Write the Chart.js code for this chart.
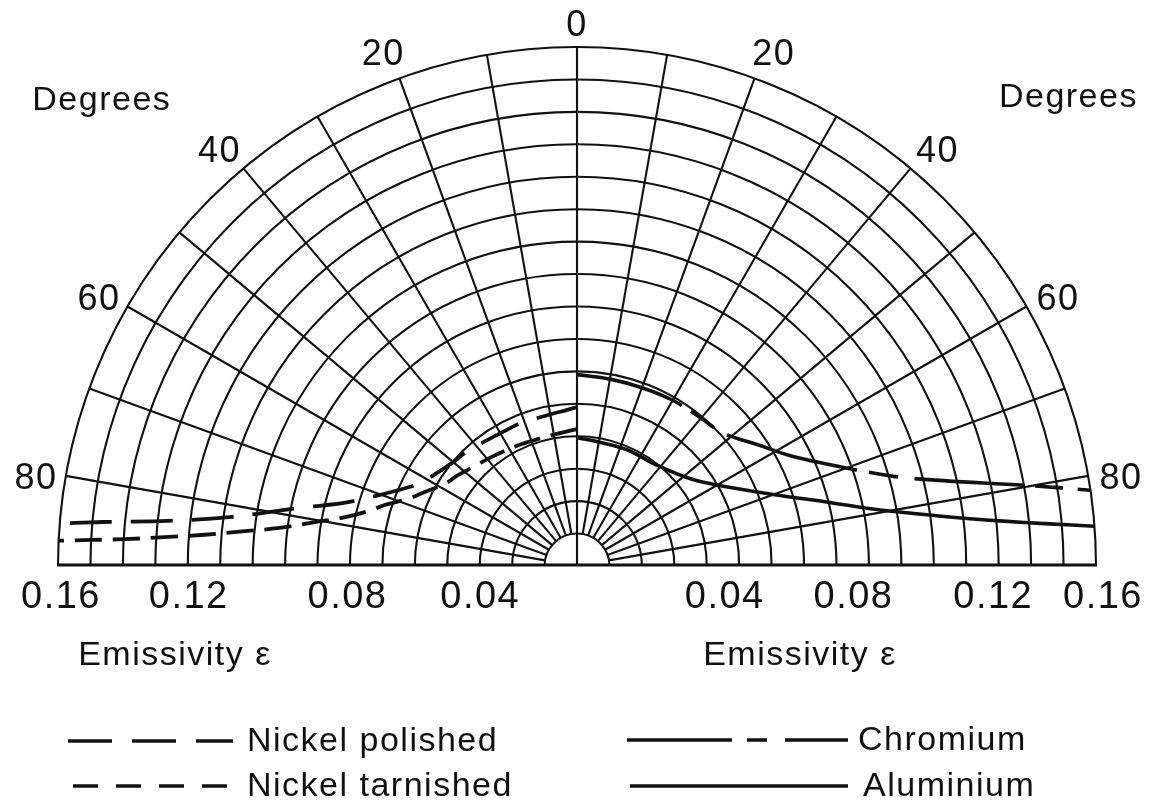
<!DOCTYPE html>
<html>
<head>
<meta charset="utf-8">
<script src="https://cdn.jsdelivr.net/npm/chart.js@4.4.1/dist/chart.umd.min.js"></script>
<style>
html,body{margin:0;padding:0;background:#ffffff;}
#wrap{width:1154px;height:804px;position:relative;}
</style>
</head>
<body>
<div id="wrap"><canvas id="c"></canvas></div>
<script>
// ---- grid / tick definitions ----
const ringValues = [0.01,0.02,0.03,0.04,0.05,0.06,0.07,0.08,0.09,0.10,0.11,0.12,0.13,0.14,0.15,0.16];
const spokeAngles = [-80,-70,-60,-50,-40,-30,-20,-10,0,10,20,30,40,50,60,70,80];
const angleTickLabels = [0,20,40,60,80];
const emissivityTickLabels = [0.04,0.08,0.12,0.16];
const seriesNames = ['Nickel polished','Nickel tarnished','Chromium','Aluminium'];

// ---- data: angle from normal (degrees, left side negative) and emissivity ----
const nickelPolishedDeg = [0,-21,-27,-44,-50,-61,-64,-72,-75,-78,-79,-82,-83.7,-84.7,-85.3];
const nickelPolishedEps = [0.049,0.0473,0.0472,0.049,0.0498,0.054,0.0563,0.0679,0.0749,0.0866,0.0912,0.1082,0.127,0.1469,0.160];

const nickelTarnishedDeg = [0,-11,-25,-38,-45,-53,-57.5,-64.7,-68,-72.4,-74.8,-78,-80.4,-82.7,-84.2,-85.2,-86,-86.6,-87.2];
const nickelTarnishedEps = [0.0422,0.0411,0.0413,0.0427,0.0439,0.0463,0.0477,0.0527,0.0557,0.0622,0.0657,0.0727,0.0815,0.0925,0.1046,0.1152,0.1275,0.1397,0.160];

const chromiumDeg = [0,10,20,30,40,48,56,63,71,75,80,81.6];
const chromiumEps = [0.059,0.0585,0.0585,0.059,0.0595,0.061,0.067,0.0745,0.091,0.105,0.1425,0.160];

const aluminiumDeg = [0,7,23,38,53,62,70.4,75.6,78.7,80.5,82.5,83.9,84.9,85.6];
const aluminiumEps = [0.0395,0.039,0.039,0.0396,0.0444,0.0521,0.0653,0.0794,0.091,0.1008,0.1158,0.131,0.1462,0.160];

function toXY(deg, eps){
  return deg.map((d,i)=>{
    const t = d*Math.PI/180;
    return {x: eps[i]*Math.sin(t), y: eps[i]*Math.cos(t)};
  });
}

const INK = '#111111';
const FONT = '34px "Liberation Sans", Arial, sans-serif';
const ANGFONT = '36px "Liberation Sans", Arial, sans-serif';
const NUMFONT = '38px "Liberation Sans", Arial, sans-serif';

const dashes = {
  'Nickel polished': [42,19],
  'Nickel tarnished': [27,11],
  'Chromium': [110,11,28,15,135,12,30,16],
  'Aluminium': []
};
const legendDashes = {
  'Nickel polished': [44,20],
  'Nickel tarnished': [25,18],
  'Chromium': [105,15,20,18],
  'Aluminium': []
};

const polarGrid = {
  id: 'polarGrid',
  beforeDatasetsDraw(chart){
    const {ctx, scales:{x, y}} = chart;
    const cx = x.getPixelForValue(0), cy = y.getPixelForValue(0);
    const R = v => x.getPixelForValue(v) - cx;
    ctx.save();
    ctx.strokeStyle = '#111111';
    ctx.lineWidth = 2.1;
    ringValues.forEach(r=>{
      ctx.beginPath();
      ctx.arc(cx, cy, R(r), Math.PI, 2*Math.PI);
      ctx.stroke();
    });
    const rIn = R(ringValues[0]), rOut = R(ringValues[ringValues.length-1]);
    spokeAngles.forEach(a=>{
      const t = a*Math.PI/180;
      const r0 = a === 0 ? 0 : rIn;
      ctx.beginPath();
      ctx.moveTo(cx + r0*Math.sin(t), cy - r0*Math.cos(t));
      ctx.lineTo(cx + rOut*Math.sin(t), cy - rOut*Math.cos(t));
      ctx.stroke();
    });
    ctx.lineWidth = 3;
    ctx.beginPath();
    ctx.moveTo(cx - rOut - 1, cy - 1);
    ctx.lineTo(cx + rOut + 1, cy - 1);
    ctx.stroke();
    ctx.restore();
  }
};

const labels = {
  id: 'labels',
  afterDraw(chart){
    const {ctx, scales:{x, y}} = chart;
    const cx = x.getPixelForValue(0), cy = y.getPixelForValue(0);
    const R = v => x.getPixelForValue(v) - cx;
    ctx.save();
    ctx.fillStyle = INK;
    ctx.letterSpacing = '1.5px';
    ctx.textAlign = 'center';
    ctx.textBaseline = 'middle';
    // angle labels
    ctx.font = ANGFONT;
    const rl = R(0.169);
    angleTickLabels.forEach(a=>{
      const sides = a === 0 ? [1] : [-1, 1];
      sides.forEach(s=>{
        const t = s*(a + (a===0?0:0.7))*Math.PI/180;
        ctx.fillText(String(a), cx + rl*Math.sin(t) + (s>0 && a!==0 ? 3 : 0), cy - rl*Math.cos(t) + (a===0?8:2));
      });
    });
    // emissivity tick labels
    ctx.font = NUMFONT;
    const nudgeL = {0.04: 33, 0.08: 30, 0.12: 1, 0.16: 3};
    const nudgeR = {0.04: 18, 0.08: 17, 0.12: 27, 0.16: 7};
    emissivityTickLabels.forEach(v=>{
      ctx.fillText(v.toFixed(2), x.getPixelForValue(-v) + nudgeL[v], cy + 32);
      ctx.fillText(v.toFixed(2), x.getPixelForValue(v) + nudgeR[v], cy + 32);
    });
    // axis titles
    ctx.font = FONT;
    ctx.fillText('Degrees', x.getPixelForValue(-0.1465), y.getPixelForValue(0.1435));
    ctx.fillText('Degrees', x.getPixelForValue(0.1515), y.getPixelForValue(0.1445));
    ctx.fillText('Emissivity \u03b5', 175, cy + 90);
    ctx.fillText('Emissivity \u03b5', 800, cy + 90);
    // legend
    const legendItems = [
      {name: seriesNames[0], x0: 68, x1: 233, tx: 247, y: 741},
      {name: seriesNames[1], x0: 73, x1: 228, tx: 247, y: 786},
      {name: seriesNames[2], x0: 627, x1: 848, tx: 858, y: 740},
      {name: seriesNames[3], x0: 630, x1: 848, tx: 863, y: 786}
    ];
    legendItems.forEach(it=>{
      ctx.save();
      ctx.strokeStyle = INK;
      ctx.lineWidth = 3.5;
      ctx.setLineDash(legendDashes[it.name]);
      ctx.beginPath();
      ctx.moveTo(it.x0, it.y);
      ctx.lineTo(it.x1, it.y);
      ctx.stroke();
      ctx.restore();
      ctx.textAlign = 'left';
      ctx.fillText(it.name, it.tx, it.y + 1);
    });
    ctx.restore();
  }
};

const mk = (name, deg, eps, w) => ({
  label: name,
  data: toXY(deg, eps),
  showLine: true,
  borderColor: INK,
  backgroundColor: INK,
  borderWidth: w,
  borderDash: dashes[name],
  pointRadius: 0,
  tension: 0.35,
  fill: false
});

new Chart(document.getElementById('c'), {
  type: 'scatter',
  data: {
    datasets: [
      mk(seriesNames[0], nickelPolishedDeg, nickelPolishedEps, 3.8),
      mk(seriesNames[1], nickelTarnishedDeg, nickelTarnishedEps, 3.8),
      mk(seriesNames[2], chromiumDeg, chromiumEps, 3.6),
      mk(seriesNames[3], aluminiumDeg, aluminiumEps, 3.6)
    ]
  },
  options: {
    responsive: true,
    maintainAspectRatio: false,
    animation: false,
    layout: {padding: {left: 58, right: 58, top: 47, bottom: 238}},
    scales: {
      x: {type: 'linear', min: -0.16, max: 0.16, display: false},
      y: {type: 'linear', min: 0, max: 0.16, display: false}
    },
    plugins: {legend: {display: false}, tooltip: {enabled: false}}
  },
  plugins: [polarGrid, labels]
});
</script>
</body>
</html>
